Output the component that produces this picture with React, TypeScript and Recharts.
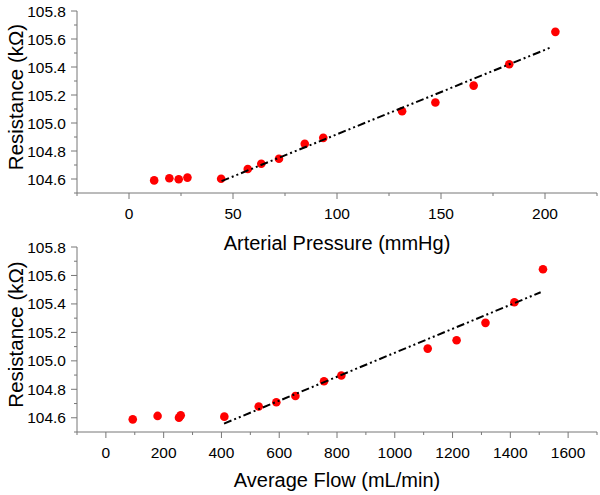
import React from 'react';
import { ScatterChart, Scatter, XAxis, YAxis, Label } from 'recharts';

// Top panel: arterial pressure vs resistance
const pressure = [12.1, 19.4, 23.9, 28.1, 44.3, 57.1, 63.6, 72.1, 84.5, 93.4, 131.3, 147.3, 165.7, 182.8, 205.0];
const resistanceP = [104.59, 104.605, 104.598, 104.61, 104.602, 104.671, 104.709, 104.745, 104.851, 104.894, 105.084, 105.146, 105.267, 105.42, 105.651];
const fitPressureX = [44.5, 203];
const fitPressureY = [104.585, 105.541];

// Bottom panel: average flow vs resistance
const flow = [93, 179, 253, 259, 410, 529, 590, 656, 755, 815, 1114, 1214, 1314, 1414, 1513];
const resistanceF = [104.589, 104.613, 104.601, 104.617, 104.608, 104.679, 104.709, 104.753, 104.857, 104.897, 105.086, 105.145, 105.267, 105.412, 105.644];
const fitFlowX = [409, 1505];
const fitFlowY = [104.559, 105.482];

// Tick labels
const pressureTicks = [-25, 0, 25, 50, 75, 100, 125, 150, 175, 200, 225];
const pressureMajor = [0, 50, 100, 150, 200];
const flowTicks = [-100, 0, 100, 200, 300, 400, 500, 600, 700, 800, 900, 1000, 1100, 1200, 1300, 1400, 1500, 1600, 1700];
const flowMajor = [0, 200, 400, 600, 800, 1000, 1200, 1400, 1600];
const resTicks = [104.5, 104.6, 104.7, 104.8, 104.9, 105.0, 105.1, 105.2, 105.3, 105.4, 105.5, 105.6, 105.7, 105.8];
const resMajor = ['104.6', '104.8', '105.0', '105.2', '105.4', '105.6', '105.8'];

const FONT = '"Liberation Sans", Arial, sans-serif';
const AXIS = '#777';

const toPoints = (xs: number[], ys: number[]) => xs.map((x, i) => ({ x, y: ys[i] }));

const makeXTick = (majors: number[]) => (props: any) => {
  const { x, y, payload } = props;
  const major = majors.includes(payload.value);
  return (
    <g>
      <line x1={x} y1={y} x2={x} y2={y + (major ? 6 : 3)} stroke={AXIS} strokeWidth={1} />
      {major && (
        <text x={x} y={y + 26} textAnchor="middle" fontSize={15.5} fill="#000" fontFamily={FONT}>
          {payload.value}
        </text>
      )}
    </g>
  );
};

const YTick = (props: any) => {
  const { x, y, payload } = props;
  const label = Number(payload.value).toFixed(1);
  const major = resMajor.includes(label);
  return (
    <g>
      <line x1={x - (major ? 6 : 3)} y1={y} x2={x} y2={y} stroke={AXIS} strokeWidth={1} />
      {major && (
        <text x={x - 11} y={y + 5.5} textAnchor="end" fontSize={15.5} fill="#000" fontFamily={FONT}>
          {label}
        </text>
      )}
    </g>
  );
};

const Dot = (props: any) => <circle cx={props.cx} cy={props.cy} r={4.3} fill="#ff0000" />;
const NoDot = () => <g />;

const YTitle = (props: any) => {
  const vb = props.viewBox;
  const cx = vb.x + 15;
  const cy = vb.y + vb.height / 2 - 5;
  return (
    <text
      x={cx}
      y={cy}
      transform={`rotate(-90 ${cx} ${cy})`}
      textAnchor="middle"
      dominantBaseline="central"
      fontSize={20.5}
      fill="#000"
      fontFamily={FONT}
    >
      Resistance (kΩ)
    </text>
  );
};

const makeXTitle = (text: string, offset: number) => (props: any) => {
  const vb = props.viewBox;
  const cx = vb.x + vb.width / 2;
  const by = vb.y + vb.height - offset;
  return (
    <text x={cx} y={by} textAnchor="middle" fontSize={20} fill="#000" fontFamily={FONT}>
      {text}
    </text>
  );
};

interface PanelProps {
  top: number;
  height: number;
  xHeight: number;
  data: { x: number; y: number }[];
  fit: { x: number; y: number }[];
  domain: [number, number];
  ticks: number[];
  majors: number[];
  title: string;
  titleOffset: number;
}

const Panel = ({ top, height, xHeight, data, fit, domain, ticks, majors, title, titleOffset }: PanelProps) => (
  <div style={{ position: 'absolute', left: 0, top, width: 600, height }}>
    <ScatterChart width={600} height={height} margin={{ top: 11, right: 3, bottom: 0, left: 0 }}>
      <XAxis
        type="number"
        dataKey="x"
        domain={domain}
        ticks={ticks}
        interval={0}
        allowDataOverflow
        height={xHeight}
        tickSize={0}
        tickMargin={0}
        tickLine={false}
        axisLine={{ stroke: AXIS }}
        tick={makeXTick(majors)}
      >
        <Label content={makeXTitle(title, titleOffset)} />
      </XAxis>
      <YAxis
        type="number"
        dataKey="y"
        domain={[104.5, 105.8]}
        ticks={resTicks}
        interval={0}
        allowDataOverflow
        width={77}
        tickSize={0}
        tickMargin={0}
        tickLine={false}
        axisLine={{ stroke: AXIS }}
        tick={YTick}
      >
        <Label content={YTitle} />
      </YAxis>
      <Scatter data={data} shape={Dot} isAnimationActive={false} />
      <Scatter
        data={fit}
        shape={NoDot}
        line={{ stroke: '#000', strokeWidth: 2, strokeDasharray: '8 3 2 3 2 3' }}
        isAnimationActive={false}
      />
    </ScatterChart>
  </div>
);

export default function App() {
  return (
    <div style={{ position: 'absolute', left: 0, top: 0, width: 600, height: 495, background: '#fff', fontFamily: FONT }}>
      <Panel
        top={0}
        height={255}
        xHeight={62}
        data={toPoints(pressure, resistanceP)}
        fit={toPoints(fitPressureX, fitPressureY)}
        domain={[-25, 225]}
        ticks={pressureTicks}
        majors={pressureMajor}
        title="Arterial Pressure (mmHg)"
        titleOffset={5.5}
      />
      <Panel
        top={236}
        height={259}
        xHeight={63}
        data={toPoints(flow, resistanceF)}
        fit={toPoints(fitFlowX, fitFlowY)}
        domain={[-100, 1700]}
        ticks={flowTicks}
        majors={flowMajor}
        title="Average Flow (mL/min)"
        titleOffset={8}
      />
    </div>
  );
}
